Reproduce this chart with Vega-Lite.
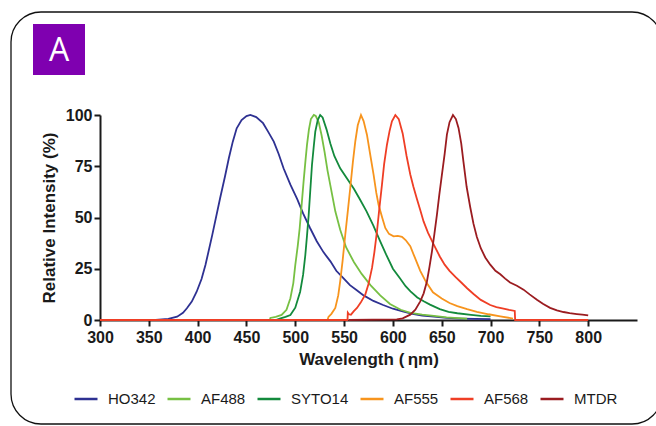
{
  "$schema": "https://vega.github.io/schema/vega-lite/v6.json",
  "width": 537,
  "height": 205,
  "autosize": {"type": "none"},
  "padding": {"left": 100, "top": 115, "right": 19, "bottom": 106},
  "background": "white",
  "config": {
    "view": {"stroke": null},
    "font": "Liberation Sans",
    "axis": {
      "grid": false,
      "domainColor": "#1a1a1a",
      "domainWidth": 2,
      "tickColor": "#1a1a1a",
      "tickWidth": 2,
      "tickSize": 6,
      "labelFlush": false,
      "labelFont": "Liberation Sans",
      "labelFontWeight": "bold",
      "labelFontSize": 16,
      "labelColor": "#1a1a1a",
      "titleFont": "Liberation Sans",
      "titleFontWeight": "bold",
      "titleFontSize": 17,
      "titleColor": "#1a1a1a"
    },
    "legend": {
      "labelFont": "Liberation Sans",
      "labelFontSize": 15,
      "labelColor": "#1a1a1a"
    }
  },
  "datasets": {
    "spectra": [
      {"dye": "HO342", "wl": 357, "ri": 0}, {"dye": "HO342", "wl": 370, "ri": 0.5}, {"dye": "HO342", "wl": 379, "ri": 1.6}, {"dye": "HO342", "wl": 385, "ri": 3.5}, {"dye": "HO342", "wl": 389, "ri": 5.7}, {"dye": "HO342", "wl": 394, "ri": 9}, {"dye": "HO342", "wl": 399, "ri": 13.8}, {"dye": "HO342", "wl": 404, "ri": 20}, {"dye": "HO342", "wl": 408, "ri": 26.8}, {"dye": "HO342", "wl": 415, "ri": 41.5}, {"dye": "HO342", "wl": 423, "ri": 59.4}, {"dye": "HO342", "wl": 428, "ri": 70}, {"dye": "HO342", "wl": 432, "ri": 79}, {"dye": "HO342", "wl": 436, "ri": 87}, {"dye": "HO342", "wl": 440, "ri": 93.5}, {"dye": "HO342", "wl": 445, "ri": 97.5}, {"dye": "HO342", "wl": 450, "ri": 99.5}, {"dye": "HO342", "wl": 454, "ri": 100}, {"dye": "HO342", "wl": 460, "ri": 99}, {"dye": "HO342", "wl": 467, "ri": 96}, {"dye": "HO342", "wl": 472, "ri": 92}, {"dye": "HO342", "wl": 478, "ri": 87}, {"dye": "HO342", "wl": 483, "ri": 81}, {"dye": "HO342", "wl": 488, "ri": 74}, {"dye": "HO342", "wl": 495, "ri": 66}, {"dye": "HO342", "wl": 502, "ri": 59}, {"dye": "HO342", "wl": 508, "ri": 52}, {"dye": "HO342", "wl": 515, "ri": 45}, {"dye": "HO342", "wl": 522, "ri": 38.4}, {"dye": "HO342", "wl": 529, "ri": 33}, {"dye": "HO342", "wl": 536, "ri": 28.6}, {"dye": "HO342", "wl": 542, "ri": 24}, {"dye": "HO342", "wl": 549, "ri": 20.5}, {"dye": "HO342", "wl": 556, "ri": 17}, {"dye": "HO342", "wl": 563, "ri": 14.5}, {"dye": "HO342", "wl": 570, "ri": 12}, {"dye": "HO342", "wl": 580, "ri": 9.3}, {"dye": "HO342", "wl": 590, "ri": 7.3}, {"dye": "HO342", "wl": 600, "ri": 5.5}, {"dye": "HO342", "wl": 610, "ri": 4.2}, {"dye": "HO342", "wl": 620, "ri": 3}, {"dye": "HO342", "wl": 630, "ri": 2.2}, {"dye": "HO342", "wl": 642, "ri": 1.6}, {"dye": "HO342", "wl": 655, "ri": 1}, {"dye": "HO342", "wl": 670, "ri": 0.7}, {"dye": "HO342", "wl": 685, "ri": 0.5}, {"dye": "HO342", "wl": 700, "ri": 0.4},

      {"dye": "AF488", "wl": 474, "ri": 0}, {"dye": "AF488", "wl": 474.5, "ri": 1}, {"dye": "AF488", "wl": 480, "ri": 1.5}, {"dye": "AF488", "wl": 486, "ri": 2.5}, {"dye": "AF488", "wl": 491, "ri": 5}, {"dye": "AF488", "wl": 495, "ri": 10.6}, {"dye": "AF488", "wl": 498, "ri": 18}, {"dye": "AF488", "wl": 500, "ri": 26.8}, {"dye": "AF488", "wl": 502.5, "ri": 36}, {"dye": "AF488", "wl": 504.5, "ri": 44.7}, {"dye": "AF488", "wl": 506.5, "ri": 56}, {"dye": "AF488", "wl": 508.5, "ri": 67.5}, {"dye": "AF488", "wl": 510.5, "ri": 78}, {"dye": "AF488", "wl": 512, "ri": 85.4}, {"dye": "AF488", "wl": 514, "ri": 93}, {"dye": "AF488", "wl": 516, "ri": 98}, {"dye": "AF488", "wl": 519, "ri": 100}, {"dye": "AF488", "wl": 521, "ri": 99.5}, {"dye": "AF488", "wl": 524, "ri": 96.5}, {"dye": "AF488", "wl": 527, "ri": 90}, {"dye": "AF488", "wl": 530, "ri": 82}, {"dye": "AF488", "wl": 533, "ri": 73}, {"dye": "AF488", "wl": 537, "ri": 63}, {"dye": "AF488", "wl": 541, "ri": 53}, {"dye": "AF488", "wl": 546, "ri": 44}, {"dye": "AF488", "wl": 552, "ri": 35.5}, {"dye": "AF488", "wl": 560, "ri": 28.3}, {"dye": "AF488", "wl": 568, "ri": 22.5}, {"dye": "AF488", "wl": 577, "ri": 17}, {"dye": "AF488", "wl": 587, "ri": 12}, {"dye": "AF488", "wl": 597, "ri": 7.8}, {"dye": "AF488", "wl": 608, "ri": 5}, {"dye": "AF488", "wl": 618, "ri": 3.5}, {"dye": "AF488", "wl": 630, "ri": 2.6}, {"dye": "AF488", "wl": 642, "ri": 2}, {"dye": "AF488", "wl": 655, "ri": 1.3}, {"dye": "AF488", "wl": 667, "ri": 0.9}, {"dye": "AF488", "wl": 676, "ri": 0.6},

      {"dye": "SYTO14", "wl": 480, "ri": 0}, {"dye": "SYTO14", "wl": 485, "ri": 0.8}, {"dye": "SYTO14", "wl": 490, "ri": 1.5}, {"dye": "SYTO14", "wl": 495, "ri": 2.4}, {"dye": "SYTO14", "wl": 500, "ri": 6}, {"dye": "SYTO14", "wl": 505, "ri": 13.8}, {"dye": "SYTO14", "wl": 508, "ri": 22}, {"dye": "SYTO14", "wl": 510.3, "ri": 31.7}, {"dye": "SYTO14", "wl": 512, "ri": 41}, {"dye": "SYTO14", "wl": 513.7, "ri": 51}, {"dye": "SYTO14", "wl": 515.5, "ri": 64}, {"dye": "SYTO14", "wl": 517.1, "ri": 75.6}, {"dye": "SYTO14", "wl": 519, "ri": 85}, {"dye": "SYTO14", "wl": 520.5, "ri": 91.9}, {"dye": "SYTO14", "wl": 523, "ri": 97.5}, {"dye": "SYTO14", "wl": 525.5, "ri": 100}, {"dye": "SYTO14", "wl": 528, "ri": 98.8}, {"dye": "SYTO14", "wl": 532, "ri": 93}, {"dye": "SYTO14", "wl": 536, "ri": 86}, {"dye": "SYTO14", "wl": 540, "ri": 80}, {"dye": "SYTO14", "wl": 546, "ri": 74}, {"dye": "SYTO14", "wl": 553, "ri": 69}, {"dye": "SYTO14", "wl": 560, "ri": 64}, {"dye": "SYTO14", "wl": 566, "ri": 59}, {"dye": "SYTO14", "wl": 573, "ri": 53}, {"dye": "SYTO14", "wl": 580, "ri": 46}, {"dye": "SYTO14", "wl": 587, "ri": 38.4}, {"dye": "SYTO14", "wl": 593, "ri": 32}, {"dye": "SYTO14", "wl": 600, "ri": 25}, {"dye": "SYTO14", "wl": 607, "ri": 20.5}, {"dye": "SYTO14", "wl": 613, "ri": 16.5}, {"dye": "SYTO14", "wl": 618, "ri": 14}, {"dye": "SYTO14", "wl": 625, "ri": 11}, {"dye": "SYTO14", "wl": 632, "ri": 9}, {"dye": "SYTO14", "wl": 638, "ri": 7.5}, {"dye": "SYTO14", "wl": 648, "ri": 5.3}, {"dye": "SYTO14", "wl": 657, "ri": 4}, {"dye": "SYTO14", "wl": 666, "ri": 3.3}, {"dye": "SYTO14", "wl": 680, "ri": 2.5}, {"dye": "SYTO14", "wl": 690, "ri": 2}, {"dye": "SYTO14", "wl": 700, "ri": 1.8},

      {"dye": "AF555", "wl": 533, "ri": 0}, {"dye": "AF555", "wl": 534, "ri": 1.5}, {"dye": "AF555", "wl": 537, "ri": 3}, {"dye": "AF555", "wl": 541, "ri": 5.9}, {"dye": "AF555", "wl": 544, "ri": 12}, {"dye": "AF555", "wl": 546, "ri": 18.9}, {"dye": "AF555", "wl": 548.5, "ri": 29}, {"dye": "AF555", "wl": 551.2, "ri": 41.6}, {"dye": "AF555", "wl": 554, "ri": 54}, {"dye": "AF555", "wl": 556.3, "ri": 64.4}, {"dye": "AF555", "wl": 559, "ri": 77}, {"dye": "AF555", "wl": 561.5, "ri": 87.2}, {"dye": "AF555", "wl": 564, "ri": 95}, {"dye": "AF555", "wl": 567.3, "ri": 100}, {"dye": "AF555", "wl": 570, "ri": 97}, {"dye": "AF555", "wl": 573.4, "ri": 90.4}, {"dye": "AF555", "wl": 577, "ri": 80}, {"dye": "AF555", "wl": 580.2, "ri": 70.9}, {"dye": "AF555", "wl": 583, "ri": 62}, {"dye": "AF555", "wl": 585.3, "ri": 56.2}, {"dye": "AF555", "wl": 589, "ri": 50}, {"dye": "AF555", "wl": 592.2, "ri": 44.9}, {"dye": "AF555", "wl": 596, "ri": 42}, {"dye": "AF555", "wl": 600.7, "ri": 40.8}, {"dye": "AF555", "wl": 605, "ri": 41}, {"dye": "AF555", "wl": 609.3, "ri": 40.6}, {"dye": "AF555", "wl": 613, "ri": 39}, {"dye": "AF555", "wl": 617.8, "ri": 36}, {"dye": "AF555", "wl": 622, "ri": 31}, {"dye": "AF555", "wl": 628, "ri": 24}, {"dye": "AF555", "wl": 634, "ri": 18.5}, {"dye": "AF555", "wl": 641, "ri": 13.5}, {"dye": "AF555", "wl": 650, "ri": 10.5}, {"dye": "AF555", "wl": 658, "ri": 8.3}, {"dye": "AF555", "wl": 666, "ri": 6.8}, {"dye": "AF555", "wl": 676, "ri": 5.3}, {"dye": "AF555", "wl": 686, "ri": 4}, {"dye": "AF555", "wl": 698, "ri": 2.8}, {"dye": "AF555", "wl": 710, "ri": 1.8}, {"dye": "AF555", "wl": 723, "ri": 0.7},

      {"dye": "AF568", "wl": 300, "ri": 0}, {"dye": "AF568", "wl": 553.5, "ri": 0}, {"dye": "AF568", "wl": 553.8, "ri": 3.6}, {"dye": "AF568", "wl": 555, "ri": 2.8}, {"dye": "AF568", "wl": 557, "ri": 2.6}, {"dye": "AF568", "wl": 560, "ri": 4.3}, {"dye": "AF568", "wl": 563.2, "ri": 5.9}, {"dye": "AF568", "wl": 567, "ri": 8.5}, {"dye": "AF568", "wl": 571.7, "ri": 12.4}, {"dye": "AF568", "wl": 575, "ri": 17.5}, {"dye": "AF568", "wl": 578.6, "ri": 25.4}, {"dye": "AF568", "wl": 581, "ri": 33}, {"dye": "AF568", "wl": 583.7, "ri": 43.3}, {"dye": "AF568", "wl": 586, "ri": 54}, {"dye": "AF568", "wl": 588.8, "ri": 66}, {"dye": "AF568", "wl": 591, "ri": 76}, {"dye": "AF568", "wl": 593.9, "ri": 85.5}, {"dye": "AF568", "wl": 596.5, "ri": 92}, {"dye": "AF568", "wl": 599, "ri": 96.9}, {"dye": "AF568", "wl": 602.5, "ri": 100}, {"dye": "AF568", "wl": 606, "ri": 98}, {"dye": "AF568", "wl": 610, "ri": 91}, {"dye": "AF568", "wl": 614, "ri": 80}, {"dye": "AF568", "wl": 617.8, "ri": 71}, {"dye": "AF568", "wl": 621, "ri": 65}, {"dye": "AF568", "wl": 624.6, "ri": 59}, {"dye": "AF568", "wl": 628, "ri": 53.7}, {"dye": "AF568", "wl": 631.4, "ri": 48.1}, {"dye": "AF568", "wl": 636, "ri": 42.5}, {"dye": "AF568", "wl": 641.6, "ri": 37}, {"dye": "AF568", "wl": 648, "ri": 31}, {"dye": "AF568", "wl": 653, "ri": 27}, {"dye": "AF568", "wl": 658, "ri": 24}, {"dye": "AF568", "wl": 664, "ri": 21}, {"dye": "AF568", "wl": 670, "ri": 18.3}, {"dye": "AF568", "wl": 676, "ri": 15.5}, {"dye": "AF568", "wl": 682.6, "ri": 12.7}, {"dye": "AF568", "wl": 690, "ri": 9.8}, {"dye": "AF568", "wl": 699.7, "ri": 7.3}, {"dye": "AF568", "wl": 706, "ri": 6.3}, {"dye": "AF568", "wl": 713.3, "ri": 5.6}, {"dye": "AF568", "wl": 719, "ri": 4.9}, {"dye": "AF568", "wl": 724.8, "ri": 4.4}, {"dye": "AF568", "wl": 725.2, "ri": 0}, {"dye": "AF568", "wl": 800, "ri": 0},

      {"dye": "MTDR", "wl": 555, "ri": 0}, {"dye": "MTDR", "wl": 604, "ri": 0.3}, {"dye": "MTDR", "wl": 610, "ri": 0.8}, {"dye": "MTDR", "wl": 617.8, "ri": 2.6}, {"dye": "MTDR", "wl": 623, "ri": 5}, {"dye": "MTDR", "wl": 628, "ri": 9.1}, {"dye": "MTDR", "wl": 631.5, "ri": 13}, {"dye": "MTDR", "wl": 634.9, "ri": 18.9}, {"dye": "MTDR", "wl": 637.5, "ri": 26}, {"dye": "MTDR", "wl": 640, "ri": 33.5}, {"dye": "MTDR", "wl": 642.5, "ri": 42}, {"dye": "MTDR", "wl": 645.1, "ri": 51.4}, {"dye": "MTDR", "wl": 647.5, "ri": 61}, {"dye": "MTDR", "wl": 650.2, "ri": 70.9}, {"dye": "MTDR", "wl": 653, "ri": 81}, {"dye": "MTDR", "wl": 655.3, "ri": 90.4}, {"dye": "MTDR", "wl": 658, "ri": 96.5}, {"dye": "MTDR", "wl": 661.5, "ri": 100}, {"dye": "MTDR", "wl": 664.5, "ri": 98}, {"dye": "MTDR", "wl": 667.2, "ri": 93.7}, {"dye": "MTDR", "wl": 670, "ri": 86}, {"dye": "MTDR", "wl": 672.3, "ri": 77}, {"dye": "MTDR", "wl": 675.5, "ri": 65}, {"dye": "MTDR", "wl": 679.2, "ri": 55}, {"dye": "MTDR", "wl": 682.5, "ri": 47}, {"dye": "MTDR", "wl": 686, "ri": 40.5}, {"dye": "MTDR", "wl": 690, "ri": 35}, {"dye": "MTDR", "wl": 694.6, "ri": 30.5}, {"dye": "MTDR", "wl": 699.7, "ri": 27}, {"dye": "MTDR", "wl": 705, "ri": 24}, {"dye": "MTDR", "wl": 710, "ri": 22.3}, {"dye": "MTDR", "wl": 715, "ri": 20.2}, {"dye": "MTDR", "wl": 720, "ri": 18.3}, {"dye": "MTDR", "wl": 727, "ri": 16.7}, {"dye": "MTDR", "wl": 733.8, "ri": 14.8}, {"dye": "MTDR", "wl": 740, "ri": 12.5}, {"dye": "MTDR", "wl": 747.5, "ri": 9.9}, {"dye": "MTDR", "wl": 754, "ri": 7.8}, {"dye": "MTDR", "wl": 761, "ri": 5.9}, {"dye": "MTDR", "wl": 768, "ri": 4.7}, {"dye": "MTDR", "wl": 774.7, "ri": 3.9}, {"dye": "MTDR", "wl": 781, "ri": 3.3}, {"dye": "MTDR", "wl": 788.4, "ri": 2.9}, {"dye": "MTDR", "wl": 794, "ri": 2.6}, {"dye": "MTDR", "wl": 800, "ri": 2.3}
    ],
    "badge": [{"label": "A"}]
  },
  "layer": [
    {
      "data": {"name": "badge"},
      "mark": {"type": "rect", "fill": null, "fillOpacity": 0, "stroke": "#111111", "strokeWidth": 1.3, "cornerRadius": 30},
      "encoding": {
        "x": {"value": -89},
        "x2": {"value": 562},
        "y": {"value": -103},
        "y2": {"value": 309}
      }
    },
    {
      "data": {"name": "badge"},
      "mark": {"type": "rect", "fill": "#7f00b0"},
      "encoding": {
        "x": {"value": -67},
        "x2": {"value": -15},
        "y": {"value": -91},
        "y2": {"value": -40}
      }
    },
    {
      "data": {"name": "badge"},
      "mark": {"type": "text", "color": "white", "font": "Open Sans", "fontSize": 32, "align": "center", "baseline": "middle"},
      "encoding": {
        "text": {"field": "label"},
        "x": {"value": -41},
        "y": {"value": -64}
      }
    },
    {
      "data": {"name": "spectra"},
      "mark": {"type": "line", "strokeWidth": 1.8, "interpolate": "linear"},
      "encoding": {
        "x": {
          "field": "wl", "type": "quantitative",
          "scale": {"domain": [300, 850], "nice": false, "zero": false},
          "axis": {"values": [300, 350, 400, 450, 500, 550, 600, 650, 700, 750, 800], "labelPadding": 3, "titlePadding": 6, "title": "Wavelength (\u2009ηm)"}
        },
        "y": {
          "field": "ri", "type": "quantitative",
          "scale": {"domain": [0, 100], "nice": false},
          "axis": {"values": [0, 25, 50, 75, 100], "labelPadding": 2, "titlePadding": 7, "title": "Relative Intensity (%)"}
        },
        "color": {
          "field": "dye", "type": "nominal",
          "scale": {
            "domain": ["HO342", "AF488", "SYTO14", "AF555", "AF568", "MTDR"],
            "range": ["#2e3192", "#77c043", "#138a3c", "#f7941d", "#ef3e25", "#9b1c20"]
          },
          "legend": {
            "orient": "none", "legendX": -27, "legendY": 271,
            "direction": "horizontal", "title": null,
            "symbolType": "stroke", "symbolSize": 529, "symbolStrokeWidth": 2.5,
            "labelOffset": 9, "columnPadding": 6
          }
        }
      }
    }
  ]
}
